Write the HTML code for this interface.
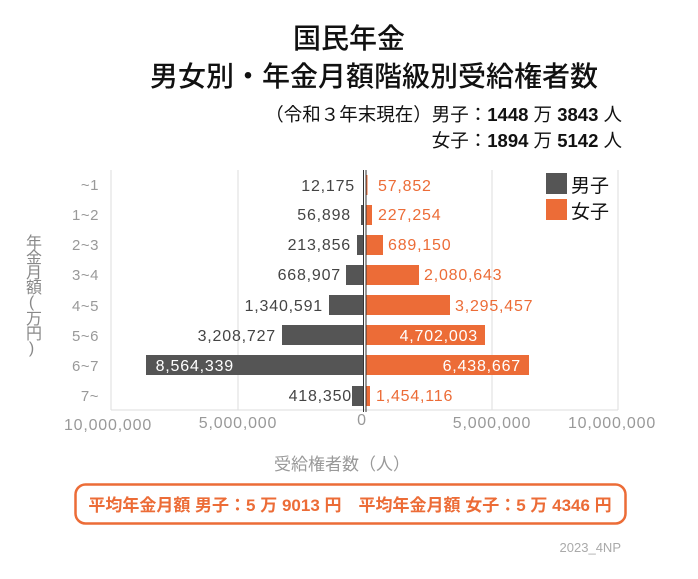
<!DOCTYPE html>
<html><head><meta charset="utf-8"><style>
body{margin:0;width:698px;height:579px;background:#fff;overflow:hidden;font-family:"Liberation Sans","Noto Sans CJK JP",sans-serif;}
.a{position:absolute;white-space:nowrap}
</style></head><body>
<div style="position:relative;width:698px;height:579px">
<div class="a" style="left:0;width:698px;top:17px;text-align:center;font-size:28px;color:#111;font-weight:500">国民年金</div>
<div class="a" style="left:0;width:748px;top:55px;text-align:center;font-size:28px;color:#111;font-weight:500">男女別・年金月額階級別受給権者数</div>
<div class="a" style="right:76px;top:102px;font-size:18.5px;color:#111;text-align:right;line-height:26px">（令和３年末現在）男子：<b>1448</b> 万 <b>3843</b> 人<br>女子：<b>1894</b> 万 <b>5142</b> 人</div>
<div class="a" style="left:21px;top:234px;width:22px;font-size:16px;color:#888;writing-mode:vertical-rl;text-orientation:upright;letter-spacing:-1px">年金月額(万円)</div>
<svg class="a" style="left:0;top:0" width="698" height="579">
<g stroke="#ddd" stroke-width="1">
<line x1="111" y1="170" x2="111" y2="410"/><line x1="238" y1="170" x2="238" y2="410"/>
<line x1="492" y1="170" x2="492" y2="410"/><line x1="618" y1="170" x2="618" y2="410"/>
<line x1="111" y1="410" x2="618" y2="410"/>
</g>
<g font-size="15" fill="#999" text-anchor="end" font-family="Liberation Sans,sans-serif" letter-spacing="0.5">
<text x="99" y="190">~1</text><text x="99" y="220">1~2</text><text x="99" y="250">2~3</text><text x="99" y="280">3~4</text><text x="99" y="311">4~5</text><text x="99" y="341">5~6</text><text x="99" y="371">6~7</text><text x="99" y="401">7~</text>
</g>
<g font-size="16" fill="#999" text-anchor="middle" font-family="Liberation Sans,sans-serif" letter-spacing="0.8">
<text x="108" y="430">10,000,000</text><text x="238" y="428">5,000,000</text><text x="362" y="425">0</text><text x="492" y="428">5,000,000</text><text x="612" y="428">10,000,000</text>
</g>
<g fill="#555">
<rect x="363" y="175" width="1" height="20"/>
<rect x="361" y="205" width="2" height="20"/>
<rect x="357" y="235" width="6" height="20"/>
<rect x="346" y="265" width="17" height="20"/>
<rect x="329" y="295" width="34" height="20"/>
<rect x="282" y="325" width="81" height="20"/>
<rect x="146" y="355" width="217" height="20"/>
<rect x="352" y="386" width="11" height="20"/>
</g>
<g fill="#ec6c37">
<rect x="366" y="175" width="1.5" height="20"/>
<rect x="366" y="205" width="6" height="20"/>
<rect x="366" y="235" width="17" height="20"/>
<rect x="366" y="265" width="53" height="20"/>
<rect x="366" y="295" width="84" height="20"/>
<rect x="366" y="325" width="119" height="20"/>
<rect x="366" y="355" width="163" height="20"/>
<rect x="366" y="386" width="4" height="20"/>
</g>
<line x1="363.5" y1="170" x2="363.5" y2="412" stroke="#333" stroke-width="1"/>
<line x1="366" y1="170" x2="366" y2="412" stroke="#333" stroke-width="1"/>
<g font-size="16" fill="#444" text-anchor="end" font-family="Liberation Sans,sans-serif" letter-spacing="0.8">
<text x="355" y="191">12,175</text><text x="351" y="220">56,898</text><text x="351" y="250">213,856</text><text x="341" y="280">668,907</text><text x="323" y="311">1,340,591</text><text x="276" y="341">3,208,727</text><text x="352" y="401">418,350</text>
<text x="234" y="371" fill="#fff">8,564,339</text>
</g>
<g font-size="16" fill="#ec6c37" font-family="Liberation Sans,sans-serif" letter-spacing="0.8">
<text x="378" y="191">57,852</text><text x="378" y="220">227,254</text><text x="388" y="250">689,150</text><text x="424" y="280">2,080,643</text><text x="455" y="311">3,295,457</text><text x="376" y="401">1,454,116</text>
<text x="478" y="341" fill="#fff" text-anchor="end">4,702,003</text><text x="521" y="371" fill="#fff" text-anchor="end">6,438,667</text>
</g>
<rect x="546" y="173" width="21" height="21" fill="#555"/>
<rect x="546" y="199" width="21" height="21" fill="#ec6c37"/>
<text x="571" y="192" font-size="19" fill="#111" font-family="Noto Sans CJK JP,sans-serif">男子</text>
<text x="571" y="218" font-size="19" fill="#111" font-family="Noto Sans CJK JP,sans-serif">女子</text>
<text x="342" y="470" font-size="17" fill="#999" text-anchor="middle" font-family="Liberation Sans,Noto Sans CJK JP,sans-serif">受給権者数（人）</text>
<rect x="75.5" y="484.5" width="550" height="39" rx="10" fill="none" stroke="#ec6c37" stroke-width="2.5"/>
<text x="350" y="511" font-size="17" fill="#ec6c37" font-weight="bold" text-anchor="middle" font-family="Liberation Sans,Noto Sans CJK JP,sans-serif">平均年金月額 男子：5 万 9013 円　平均年金月額 女子：5 万 4346 円</text>
<text x="621" y="552" font-size="13" fill="#aaa" text-anchor="end" font-family="Liberation Sans,sans-serif">2023_4NP</text>
</svg>
</div>
</body></html>
